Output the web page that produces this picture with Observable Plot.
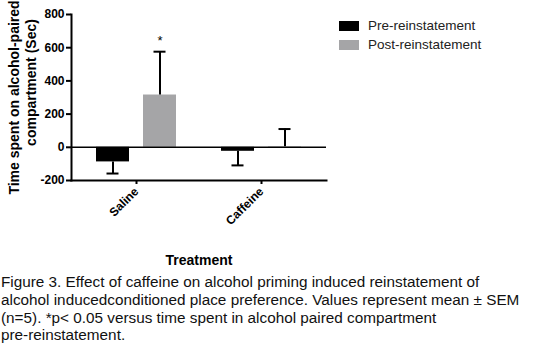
<!DOCTYPE html>
<html><head><meta charset="utf-8">
<script src="https://cdn.jsdelivr.net/npm/d3@7"></script>
<script src="https://cdn.jsdelivr.net/npm/@observablehq/plot@0.6"></script>
<style>
body{margin:0;background:#fff;font-family:"Liberation Sans",Arial,sans-serif;}
#wrap{position:relative;width:539px;height:357px;overflow:hidden;}
#chart svg{display:block;}
#legend{position:absolute;left:339px;top:16px;font-size:13.5px;color:#222;}
.row{display:flex;align-items:center;height:19px;}
.sw{width:20px;height:10px;margin-right:9px;}
#caption{position:absolute;left:1px;top:273px;font-size:15.3px;line-height:17.8px;color:#111;white-space:nowrap;}
</style></head><body>
<div id="wrap"><div id="chart"></div><div id="legend"></div><div id="caption"></div></div>
<script>
const treatments = ["Saline", "Caffeine"];
const phases = ["Pre-reinstatement", "Post-reinstatement"];
const phaseColors = ["#000000", "#a5a5a7"];
const preMean = [-88, -24];
const preSEM = [70, 85];
const postMean = [315, 3];
const postSEM = [261, 107];
const significance = ["*", ""];
const yTicks = [-200, 0, 200, 400, 600, 800];
const yTitle = ["Time spent on alcohol-paired", "compartment (Sec)"];
const xTitle = "Treatment";
const captionLines = [
  "Figure 3. Effect of caffeine on alcohol priming induced reinstatement of",
  "alcohol inducedconditioned place preference. Values represent mean \u00b1 SEM",
  "(n=5). *p< 0.05 versus time spent in alcohol paired compartment",
  "pre-reinstatement."
];

const pre = treatments.map((t, i) => ({treatment: t, mean: preMean[i], end: preMean[i] - preSEM[i]}));
const post = treatments.map((t, i) => ({treatment: t, mean: postMean[i], end: postMean[i] + postSEM[i], sig: significance[i]}));

const chart = Plot.plot({
  width: 539, height: 270,
  marginLeft: 71, marginRight: 213, marginTop: 14, marginBottom: 90,
  style: {fontFamily: "'Liberation Sans', Arial, sans-serif", color: "#000", background: "#fff"},
  x: {domain: treatments, paddingInner: 0.36, paddingOuter: 0.2},
  y: {domain: [-200, 800]},
  marks: [
    Plot.barY(pre, {x: "treatment", y: "mean", fill: phaseColors[0], insetRight: 47}),
    Plot.barY(post, {x: "treatment", y: "mean", fill: phaseColors[1], insetLeft: 47}),
    Plot.ruleY([0], {stroke: "#000", strokeWidth: 1.5}),
    Plot.ruleX(pre, {x: "treatment", y1: "mean", y2: "end", dx: -23.5, stroke: "#000", strokeWidth: 2}),
    Plot.tickY(pre, {x: "treatment", y: "end", insetLeft: 10.5, insetRight: 57.5, stroke: "#000", strokeWidth: 2}),
    Plot.ruleX(post, {x: "treatment", y1: "mean", y2: "end", dx: 23.5, stroke: "#000", strokeWidth: 2}),
    Plot.tickY(post, {x: "treatment", y: "end", insetLeft: 57.5, insetRight: 10.5, stroke: "#000", strokeWidth: 2}),
    Plot.text(post, {x: "treatment", y: "end", text: "sig", dx: 23.5, dy: -11, fontSize: 13}),
    Plot.frame({anchor: "left", stroke: "#000", strokeWidth: 2}),
    Plot.frame({anchor: "bottom", stroke: "#000", strokeWidth: 2}),
    Plot.axisY({ticks: yTicks, tickFormat: d => String(d), tickSize: 5, tickPadding: 2, fontSize: 12, fontWeight: "bold", strokeWidth: 2, label: null}),
    Plot.axisX({tickSize: 4, tickPadding: 5, tickRotate: -45, fontSize: 12, fontWeight: "bold", strokeWidth: 2, label: null}),
    Plot.text([yTitle[0]], {frameAnchor: "left", textAnchor: "middle", rotate: -90, dx: -57, dy: 0, fontSize: 14, fontWeight: "bold"}),
    Plot.text([yTitle[1]], {frameAnchor: "left", textAnchor: "middle", rotate: -90, dx: -40, dy: -15, fontSize: 14, fontWeight: "bold"}),
    Plot.text([xTitle], {frameAnchor: "bottom", dy: 84, fontSize: 14, fontWeight: "bold"})
  ]
});
document.getElementById("chart").appendChild(chart);

const legend = document.getElementById("legend");
phases.forEach((p, i) => {
  const row = document.createElement("div");
  row.className = "row";
  const sw = document.createElement("div");
  sw.className = "sw";
  sw.style.background = phaseColors[i];
  const lab = document.createElement("span");
  lab.textContent = p;
  row.appendChild(sw); row.appendChild(lab);
  legend.appendChild(row);
});
document.getElementById("caption").innerHTML = captionLines.map(s => s.replace(/&/g,"&amp;").replace(/</g,"&lt;")).join("<br>");
</script>
</body></html>
